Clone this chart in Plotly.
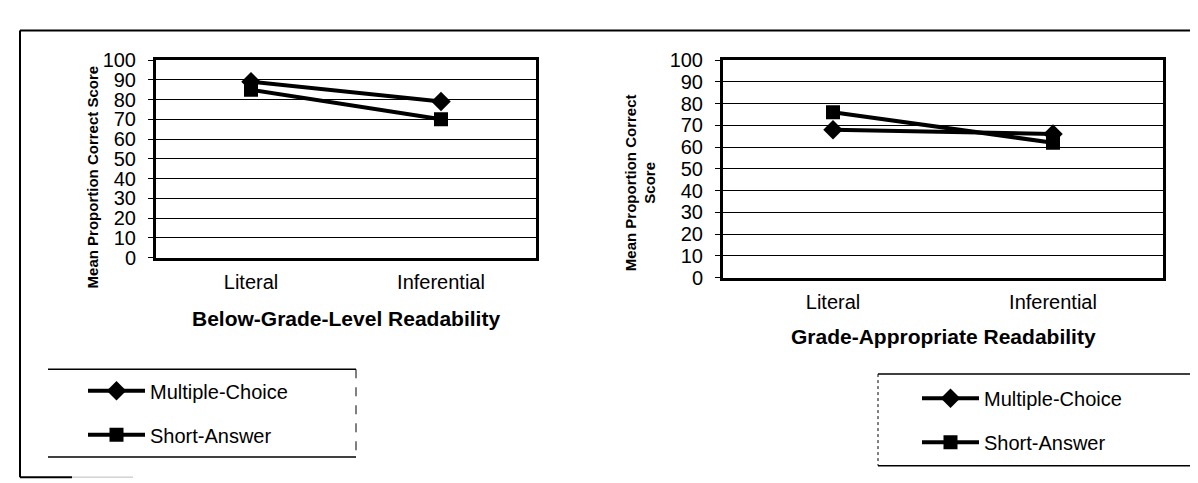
import plotly.graph_objects as go

W, H = 1198, 483

categories = ["Literal", "Inferential"]
series_names = ["Multiple-Choice", "Short-Answer"]
below_mc = [89, 79]
below_sa = [85, 70]
grade_mc = [68, 66]
grade_sa = [76, 62]
y_ticks = list(range(0, 101, 10))
left_title = "Below-Grade-Level Readability"
right_title = "Grade-Appropriate Readability"
y_title_left = "Mean Proportion Correct Score"
y_title_right = "Mean Proportion Correct<br>Score"

FONT = "Liberation Sans, Arial, sans-serif"

def px(x):
    return x / W

def py(y):
    return 1 - y / H

fig = go.Figure()

style = {
    "Multiple-Choice": dict(symbol="diamond", size=15),
    "Short-Answer": dict(symbol="square", size=14),
}

for name, vals in zip(series_names, [below_mc, below_sa]):
    fig.add_trace(go.Scatter(
        x=categories, y=vals, name=name, mode="lines+markers",
        line=dict(color="black", width=4),
        marker=dict(color="black", **style[name]),
        xaxis="x", yaxis="y", legend="legend", legendgroup=name + "1",
    ))
for name, vals in zip(series_names, [grade_mc, grade_sa]):
    fig.add_trace(go.Scatter(
        x=categories, y=vals, name=name, mode="lines+markers",
        line=dict(color="black", width=4),
        marker=dict(color="black", **style[name]),
        xaxis="x2", yaxis="y2", legend="legend2", legendgroup=name + "2",
    ))

# plot areas (pixel estimates)
L = dict(x0=148, x1=528, y0=43, y1=250)
R = dict(x0=715, x1=1155, y0=43, y1=271)

def xaxis(d):
    return dict(
        domain=[px(d["x0"]), px(d["x1"])], type="category", range=[-0.5, 1.5],
        showgrid=False, showline=True, linewidth=3, linecolor="black", mirror=True,
        ticks="", ticklabelstandoff=4, tickfont=dict(family=FONT, size=20, color="black"),
        zeroline=False, fixedrange=True,
    )

def yaxis(d, anchor):
    return dict(
        domain=[py(d["y1"]), py(d["y0"])], range=[0, 100], tickvals=y_ticks,
        showgrid=True, gridcolor="black", gridwidth=1,
        showline=True, linewidth=3, linecolor="black", mirror=True,
        ticks="outside", ticklen=5, tickcolor="black", ticklabelstandoff=8,
        tickfont=dict(family=FONT, size=20, color="black"),
        zeroline=False, anchor=anchor, fixedrange=True,
    )

legend_common = dict(
    xanchor="left", yanchor="top",
    font=dict(family=FONT, size=20, color="black"),
    bgcolor="rgba(0,0,0,0)", borderwidth=0, tracegroupgap=15,
    traceorder="grouped", itemwidth=57,
)

fig.update_layout(
    width=W, height=H, margin=dict(l=0, r=0, t=0, b=0),
    paper_bgcolor="white", plot_bgcolor="white",
    font=dict(family=FONT, color="black"),
    xaxis=dict(xaxis(L), anchor="y"),
    yaxis=yaxis(L, "x"),
    xaxis2=dict(xaxis(R), anchor="y2"),
    yaxis2=yaxis(R, "x2"),
    legend=dict(legend_common, x=px(75), y=py(369)),
    legend2=dict(legend_common, x=px(909), y=py(377)),
    showlegend=True,
)

ann = [
    dict(text="<b>%s</b>" % left_title, x=px(338), y=py(314), size=21, angle=0),
    dict(text="<b>%s</b>" % right_title, x=px(935), y=py(333), size=21, angle=0),
    dict(text="<b>%s</b>" % y_title_left, x=px(84), y=py(166), size=15, angle=-90),
    dict(text="<b>%s</b>" % y_title_right, x=px(632), y=py(172), size=15, angle=-90),
]
for a in ann:
    fig.add_annotation(xref="paper", yref="paper", showarrow=False,
                       xanchor="center", yanchor="middle",
                       font=dict(family=FONT, color="black", size=a["size"]),
                       text=a["text"], x=a["x"], y=a["y"], textangle=a["angle"])

def seg(x0, y0, x1, y1, width=1.5, dash="solid", color="black"):
    fig.add_shape(type="line", xref="paper", yref="paper",
                  x0=px(x0), y0=py(y0), x1=px(x1), y1=py(y1),
                  line=dict(color=color, width=width, dash=dash))

# outer frame (partly faded in the scan)
seg(12, 12, 12, 480, 2)
seg(12, 12, W, 12, 2)
seg(12, 480, 64, 480, 2)
seg(64, 480, 125, 480, 1, color="#bbbbbb")

# legend boxes
seg(40, 367, 348, 367, 1.5)
seg(40, 459, 348, 459, 1.5)
seg(348, 367, 348, 459, 1, "dash")
seg(870, 372, 1188, 372, 1.5)
seg(870, 468, 1188, 468, 1.5)
seg(870, 372, 870, 468, 1, "dot")
seg(1188, 372, 1188, 468, 1, "dot")

fig.write_html("out.html")
